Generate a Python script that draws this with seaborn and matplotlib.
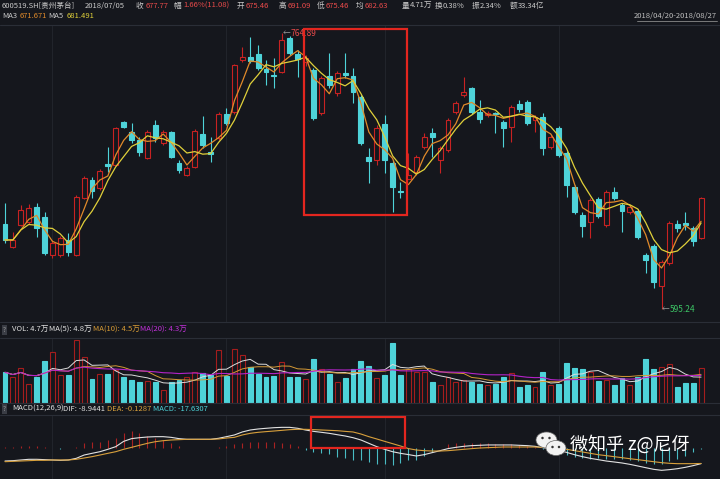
import matplotlib
matplotlib.use("Agg")
import matplotlib.pyplot as plt
from matplotlib.patches import Rectangle, Ellipse
from matplotlib.lines import Line2D
import numpy as np
import pandas as pd
import seaborn as sns

# 600519.SH daily bars 2018/04/20 - 2018/08/27
opens = [647.5, 633.4, 646.9, 648.7, 657.9, 651.8, 628.5, 628.5, 637.7, 628.5,
         663.5, 674.5, 669.6, 684.4, 683.8, 710.2, 704.0, 699.1, 688.1, 708.4,
         697.3, 704.0, 685.0, 677.6, 682.5, 702.8, 691.8, 700.4, 715.1, 716.3,
         748.3, 750.1, 752.0, 742.8, 739.1, 740.9, 761.8, 752.0, 747.1, 742.2,
         715.7, 738.5, 728.0, 740.3, 738.5, 725.6, 688.7, 686.8, 709.0, 685.0,
         667.8, 675.46, 679.5, 694.8, 703.4, 686.8, 693.0, 716.3, 726.8, 731.1,
         716.3, 714.5, 715.7, 710.2, 707.1, 721.3, 722.5, 711.4, 713.3, 694.8,
         706.5, 691.2, 670.2, 653.0, 648.7, 662.9, 646.9, 667.2, 659.2, 654.9,
         655.5, 628.5, 634.0, 609.4, 623.5, 647.5, 648.1, 645.0, 638.9]
highs = [660.4, 642.6, 659.2, 659.8, 660.4, 654.9, 637.7, 640.1, 641.9, 665.3,
         677.0, 676.4, 681.3, 694.8, 707.1, 710.8, 709.6, 701.0, 705.3, 711.4,
         705.3, 704.7, 686.8, 683.1, 705.9, 713.9, 701.0, 716.3, 718.8, 745.8,
         756.3, 762.4, 757.5, 748.3, 749.5, 764.89, 763.0, 754.4, 751.4, 743.4,
         738.5, 752.6, 741.5, 752.6, 743.4, 726.8, 694.2, 708.4, 714.5, 686.8,
         673.3, 691.09, 689.9, 703.4, 706.5, 695.4, 712.6, 723.1, 737.9, 731.7,
         723.7, 716.9, 716.3, 711.4, 720.6, 723.7, 723.7, 714.5, 715.7, 702.2,
         707.7, 692.4, 671.5, 654.9, 663.5, 664.1, 668.4, 670.2, 660.4, 659.2,
         656.7, 629.7, 635.2, 625.4, 649.3, 650.0, 654.9, 646.3, 664.1]
lows = [635.8, 632.8, 646.3, 647.5, 639.5, 628.5, 626.6, 627.2, 627.8, 627.8,
        662.9, 663.5, 668.4, 679.5, 683.1, 706.5, 697.3, 689.3, 687.5, 697.9,
        696.1, 688.1, 678.9, 677.0, 681.9, 694.2, 685.6, 699.1, 708.4, 715.1,
        747.1, 746.5, 742.2, 732.9, 731.1, 740.3, 751.4, 737.9, 744.6, 711.4,
        714.5, 731.1, 726.2, 737.2, 721.9, 696.1, 672.7, 683.8, 678.9, 654.9,
        663.5, 675.46, 677.6, 693.6, 688.7, 678.9, 691.8, 715.1, 725.6, 715.1,
        709.6, 713.3, 703.4, 694.8, 697.9, 716.3, 708.4, 704.0, 689.9, 693.6,
        688.7, 664.1, 653.6, 639.5, 638.9, 651.2, 645.7, 662.3, 642.6, 653.6,
        638.3, 617.4, 608.2, 595.24, 622.3, 642.6, 643.8, 634.0, 638.3]
closes = [637.7, 637.7, 656.1, 657.3, 645.0, 629.7, 635.8, 638.9, 630.3, 664.1,
          675.8, 667.8, 680.1, 683.1, 706.5, 707.1, 699.1, 691.8, 704.0, 700.4,
          704.0, 688.7, 680.7, 681.9, 704.7, 696.1, 690.5, 715.1, 709.6, 745.2,
          750.1, 747.7, 743.4, 740.9, 738.5, 760.6, 752.6, 748.9, 749.5, 712.6,
          737.2, 732.9, 740.3, 739.1, 728.6, 697.3, 686.2, 706.5, 686.8, 670.2,
          667.2, 677.77, 688.7, 701.0, 701.0, 694.2, 711.4, 721.9, 728.6, 716.3,
          712.0, 715.7, 715.1, 706.5, 719.4, 718.2, 709.6, 713.3, 694.2, 701.0,
          689.9, 671.5, 654.9, 646.3, 662.3, 652.4, 667.2, 663.5, 655.5, 657.9,
          639.5, 625.4, 611.9, 624.1, 648.1, 645.0, 646.9, 637.1, 663.5]
# volume, unit: 万
volumes = [4.26, 3.65, 4.82, 2.64, 3.65, 5.88, 7.04, 3.89, 3.89, 8.75,
           6.35, 3.29, 4.03, 4.03, 4.58, 3.65, 3.19, 2.96, 3.10, 2.96,
           1.81, 2.88, 3.19, 3.65, 4.35, 4.13, 3.89, 7.36, 3.75, 7.50,
           6.67, 5.04, 4.03, 3.65, 3.79, 5.74, 3.65, 3.65, 3.29, 6.11,
           4.68, 4.03, 2.96, 3.43, 4.72, 5.88, 5.18, 3.43, 3.89, 8.38,
           3.89, 4.71, 4.35, 4.35, 2.96, 2.50, 3.65, 2.96, 3.19, 2.96,
           2.64, 2.50, 2.64, 3.65, 4.21, 2.26, 2.50, 2.26, 4.35, 2.50,
           2.64, 5.60, 4.82, 4.68, 4.35, 3.10, 3.19, 2.50, 3.51, 2.50,
           3.57, 6.07, 4.72, 4.96, 5.42, 2.18, 2.82, 2.74, 4.82]
# MACD(12,26,9) lines as drawn
dif = [-18.4, -17.9, -16.9, -15.9, -15.9, -16.4, -16.9, -17.4, -16.9, -14.5,
       -9.6, -7.1, -4.7, -1.2, 2.7, 10.5, 14.5, 15.9, 16.9, 17.4,
       17.4, 16.4, 14.5, 13.5, 13.5, 13.5, 13.5, 15.0, 17.4, 19.9,
       24.3, 27.2, 28.7, 29.7, 30.6, 31.1, 31.1, 29.7, 27.2, 25.2,
       23.8, 22.3, 20.3, 18.4, 15.9, 12.5, 7.6, 2.7, -1.2, -4.7,
       -7.1, -8.94, -11.0, -9.0, -6.1, -3.2, -0.2, 1.7, 3.2, 4.2,
       4.7, 5.2, 5.2, 5.2, 5.2, 4.7, 4.2, 3.2, 1.2, -0.7,
       -2.7, -5.7, -9.1, -12.0, -14.5, -16.4, -18.4, -19.8, -21.3, -23.3,
       -25.7, -28.2, -30.6, -32.1, -31.1, -29.7, -27.7, -25.2, -22.3]
dea = [-19.4, -18.9, -18.4, -17.9, -17.4, -17.4, -16.9, -16.9, -16.9, -15.9,
       -14.0, -12.0, -9.6, -7.1, -4.7, -1.2, 1.7, 4.7, 7.6, 10.0,
       11.5, 12.5, 13.0, 13.5, 13.5, 13.5, 13.5, 14.0, 15.4, 16.4,
       19.9, 22.3, 23.8, 24.8, 25.7, 26.7, 27.7, 28.2, 28.2, 27.7,
       27.2, 26.7, 26.2, 25.2, 24.3, 21.3, 17.4, 14.0, 10.5, 7.1,
       3.7, -0.13, -2.2, -3.2, -3.7, -3.7, -3.2, -2.2, -1.2, -0.2,
       0.7, 1.2, 1.7, 2.2, 2.2, 2.2, 2.2, 2.2, 1.7, 1.2,
       0.2, -1.2, -3.2, -5.1, -7.1, -9.1, -10.5, -12.0, -13.5, -15.0,
       -16.4, -17.9, -19.4, -20.8, -21.8, -22.3, -22.3, -22.3, -22.0]

BG = "#15171d"
UP = "#c82222"
UP_VOL = "#a51d1d"
DOWN = "#4ed3d9"
LINE = "#2a2e37"
GRAY = "#c9c9c9"
RED_TXT = "#e84a4a"

sns.set_theme(style="dark", rc={"axes.facecolor": BG, "figure.facecolor": BG,
                                "axes.edgecolor": LINE, "axes.grid": False})
plt.rcParams["font.family"] = ["Noto Sans CJK SC", "DejaVu Sans"]

W, H = 720, 479
def area(x0, y0, x1, y1):
    return [x0 / W, 1 - y1 / H, (x1 - x0) / W, (y1 - y0) / H]
def fx(x): return x / W
def fy(y): return 1 - y / H

df = pd.DataFrame({"open": opens, "high": highs, "low": lows, "close": closes,
                   "vol": volumes, "dif": dif, "dea": dea})
df["i"] = np.arange(len(df))
df["ma3"] = df.close.rolling(3, min_periods=1).mean()
df["ma5"] = df.close.rolling(5, min_periods=1).mean()
df["vma5"] = df.vol.rolling(5, min_periods=1).mean()
df["vma10"] = df.vol.rolling(10, min_periods=1).mean()
df["vma20"] = df.vol.rolling(20, min_periods=1).mean()
df["macd"] = 2 * (df.dif - df.dea)
up = (df.close >= df.open).values
face = np.where(up, BG, DOWN)

fig = plt.figure(figsize=(7.2, 4.79), dpi=100)
ax = fig.add_axes(area(0, 25, 720, 322))
axv = fig.add_axes(area(0, 338, 720, 403))
axm = fig.add_axes(area(0, 415, 720, 479))
xlim = (-5 / 7.91, 715 / 7.91)
for a in (ax, axv, axm):
    a.set_xlim(*xlim)
    for s in a.spines.values():
        s.set_visible(False)
    for m in (6, 28, 48, 70):
        a.axvline(m, color="#21242b", lw=0.8, zorder=0)

# candles
ax.vlines(df.i, df.low, df.high, colors=np.where(up, UP, DOWN), lw=0.8, zorder=2)
body = np.maximum((df.close - df.open).abs(), 0.5)
ax.bar(df.i, body, bottom=np.minimum(df.open, df.close), width=0.62,
       color=face, edgecolor=np.where(up, UP, DOWN), linewidth=0.8, zorder=3)
sns.lineplot(data=df, x="i", y="ma3", ax=ax, color="#e08a2a", lw=0.9, zorder=4)
sns.lineplot(data=df, x="i", y="ma5", ax=ax, color="#e0d03a", lw=0.9, zorder=4)
ax.set_ylim(587.27, 769.81)
hi_i, lo_i = int(df.high.idxmax()), int(df.low.idxmin())
ax.text(hi_i + 0.15, df.high[hi_i], "←", color="#9a9a9a", fontsize=5.5, va="center", ha="left")
ax.text(hi_i + 1.1, df.high[hi_i], f"{df.high[hi_i]:.2f}", color=RED_TXT, fontsize=6, va="center", ha="left")
ax.text(lo_i + 0.05, df.low[lo_i], "←", color="#9a9a9a", fontsize=5.5, va="center", ha="left")
ax.text(lo_i + 1.0, df.low[lo_i], f"{df.low[lo_i]:.2f}", color="#3cc465", fontsize=6, va="center", ha="left")

# volume
axv.bar(df.i, df.vol, width=0.62, color=face, edgecolor=np.where(up, UP_VOL, DOWN),
        linewidth=0.8, zorder=2)
sns.lineplot(data=df, x="i", y="vma5", ax=axv, color="#dcdcdc", lw=0.7, zorder=3)
sns.lineplot(data=df, x="i", y="vma10", ax=axv, color="#d59a35", lw=0.7, zorder=3)
sns.lineplot(data=df, x="i", y="vma20", ax=axv, color="#b323c8", lw=0.8, zorder=3)
axv.set_ylim(0, 9.03)

# macd
axm.vlines(df.i, 0, df.macd, colors=np.where(df.macd >= 0, "#a82222", "#49bcc4"), lw=0.8, zorder=2)
sns.lineplot(data=df, x="i", y="dif", ax=axm, color="#e2e2e2", lw=0.8, zorder=3)
sns.lineplot(data=df, x="i", y="dea", ax=axm, color="#d8a03c", lw=0.8, zorder=3)
axm.set_ylim(-44.85, 49.26)

for a in (ax, axv, axm):
    a.set_xticks([]); a.set_yticks([])
    a.set_xlabel(""); a.set_ylabel("")

# separators
for y in (25, 322, 338, 403, 415):
    fig.add_artist(Line2D([0, 1], [fy(y), fy(y)], color=LINE, lw=0.8, transform=fig.transFigure))

def put(x, y, s, color=GRAY, size=5.5, **kw):
    fig.text(fx(x), fy(y), s, color=color, fontsize=size, va="center", ha="left", **kw)

# header
put(2, 6, "600519.SH[贵州茅台]")
put(85, 6, "2018/07/05")
put(136, 6, "收"); put(146, 6, "677.77", RED_TXT)
put(174, 6, "幅"); put(183, 6, "1.66%(11.08)", RED_TXT)
put(237, 6, "开"); put(246, 6, "675.46", RED_TXT)
put(279, 6, "高"); put(288, 6, "691.09", RED_TXT)
put(317, 6, "低"); put(326, 6, "675.46", RED_TXT)
put(356, 6, "均"); put(365, 6, "682.63", RED_TXT)
put(402, 6, "量"); put(410, 6, "4.71万")
put(435, 6, "换"); put(443, 6, "0.38%")
put(472, 6, "振"); put(480, 6, "2.34%")
put(510, 6, "额"); put(518, 6, "33.34亿")
put(2, 16, "MA3"); put(20, 16, "671.671", "#e08a2a")
put(48, 16, "MA5"); put(67, 16, "681.491", "#e0d03a")
fig.text(fx(717), fy(16), "2018/04/20-2018/08/27", color="#bdbdbd", fontsize=5.5, va="center", ha="right")
fig.add_artist(Line2D([fx(637), fx(717)], [fy(21), fy(21)], color="#8a8a8a", lw=0.6, transform=fig.transFigure))

q = dict(boxstyle="square,pad=0.15", fc="#3a3d45", ec="none")
put(3, 330, "?", "#9a9a9a", 4.5, bbox=q)
put(12, 330, "VOL: 4.7万", "#e0e0e0")
put(49, 330, "MA(5): 4.8万", "#e0e0e0")
put(93, 330, "MA(10): 4.5万", "#d59a35")
put(140, 330, "MA(20): 4.3万", "#c030d8")
put(3, 409, "?", "#9a9a9a", 4.5, bbox=q)
put(12, 409, "MACD(12,26,9)", "#e0e0e0")
put(63, 409, "DIF: -8.9441", "#e0e0e0")
put(107, 409, "DEA: -0.1287", "#d8a03c")
put(153, 409, "MACD: -17.6307", "#4ed3d9")

# highlight boxes
for x0, y0, x1, y1 in ((304, 29, 407, 215), (311, 417, 405, 448)):
    fig.add_artist(Rectangle((fx(x0), fy(y1)), (x1 - x0) / W, (y1 - y0) / H, fill=False,
                             ec="#e3261f", lw=1.6, transform=fig.transFigure, zorder=10))

# watermark
for cx, cy, w, h in ((546.5, 440, 21, 16), (556, 448, 20, 15)):
    fig.add_artist(Ellipse((fx(cx), fy(cy)), w / W, h / H, fc="#f2f2f2", ec="#666666", lw=0.5,
                           transform=fig.transFigure, zorder=11))
for cx, cy in ((542.5, 438), (549.5, 438), (552.5, 447), (559, 447)):
    fig.add_artist(Ellipse((fx(cx), fy(cy)), 2.5 / W, 2.5 / H, fc="#333333", ec="none",
                           transform=fig.transFigure, zorder=12))
put(570, 444, "微知乎 z@尼伢", "white", 13, zorder=12)

fig.savefig("out.png", dpi=100, facecolor=BG)
